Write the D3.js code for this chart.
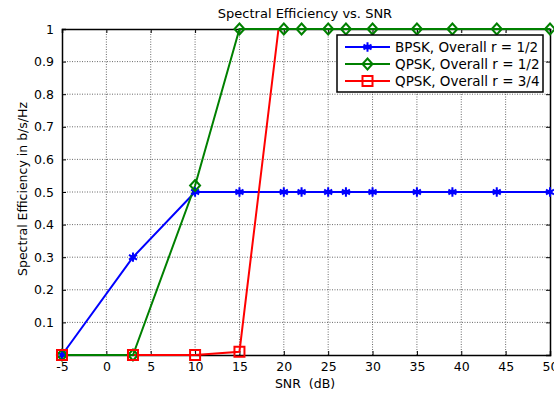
<!DOCTYPE html>
<html>
<head>
<meta charset="utf-8">
<script src="https://cdn.jsdelivr.net/npm/d3@7"></script>
<style>
body { margin: 0; background: #fff; }
text { font-family: "DejaVu Sans", sans-serif; fill: #000; }
</style>
</head>
<body>
<svg id="chart" width="554" height="394"></svg>
<script>
// values
var bpskX = [-5, 3, 10, 15, 20, 22, 25, 27, 30, 35, 39, 44, 50];
var bpskY = [0, 0.3, 0.5, 0.5, 0.5, 0.5, 0.5, 0.5, 0.5, 0.5, 0.5, 0.5, 0.5];
var qpsk12X = [-5, 3, 10, 15, 20, 22, 25, 27, 30, 35, 39, 44, 50];
var qpsk12Y = [0, 0, 0.52, 1, 1, 1, 1, 1, 1, 1, 1, 1, 1];
var qpsk34X = [-5, 3, 10, 15, 19.4, 50];
var qpsk34Y = [0, 0, 0, 0.01, 1, 1];
var xTicks = [-5, 0, 5, 10, 15, 20, 25, 30, 35, 40, 45, 50];
var yTicks = [0.1, 0.2, 0.3, 0.4, 0.5, 0.6, 0.7, 0.8, 0.9, 1];
var legendLabels = ["BPSK, Overall r = 1/2", "QPSK, Overall r = 1/2", "QPSK, Overall r = 3/4"];

var svg = d3.select("#chart");
var pl = 62, pr = 550, pt = 29, pb = 355;

var x = d3.scaleLinear().domain([-5, 50]).range([pl, pr]);
var y = d3.scaleLinear().domain([0, 1]).range([pb, pt]);

// grid
var grid = svg.append("g").attr("stroke", "#444").attr("stroke-width", 0.8).attr("stroke-dasharray", "1,1.5");
grid.selectAll(".gx").data(xTicks.slice(1, -1)).enter().append("line")
	.attr("x1", d => x(d)).attr("x2", d => x(d)).attr("y1", pt).attr("y2", pb);
grid.selectAll(".gy").data(yTicks.slice(0, -1)).enter().append("line")
	.attr("x1", pl).attr("x2", pr).attr("y1", d => y(d)).attr("y2", d => y(d));

// axes (ticks pointing inward, like matlab)
var xAxis = svg.append("g").attr("transform", "translate(0," + pb + ")")
	.call(d3.axisBottom(x).tickValues(xTicks).tickSize(-4).tickPadding(7).tickFormat(d => String(d)));
var xTop = svg.append("g").attr("transform", "translate(0," + pt + ")")
	.call(d3.axisTop(x).tickValues(xTicks).tickSize(-4).tickFormat(""));
var yAxis = svg.append("g").attr("transform", "translate(" + pl + ",0)")
	.call(d3.axisLeft(y).tickValues(yTicks).tickSize(-4).tickPadding(8).tickFormat(d => d === 1 ? "1" : d3.format(".1f")(d)));
var yRight = svg.append("g").attr("transform", "translate(" + pr + ",0)")
	.call(d3.axisRight(y).tickValues(yTicks).tickSize(-4).tickFormat(""));
[xAxis, xTop, yAxis, yRight].forEach(function(g) {
	g.select(".domain").attr("stroke", "#000").attr("stroke-width", 1.5);
	g.selectAll(".tick line").attr("stroke", "#000");
	g.selectAll(".tick text").attr("font-size", 12.5).attr("font-family", "DejaVu Sans, sans-serif").attr("fill", "#000");
});

// series
var series = [
	{ xs: bpskX, ys: bpskY, color: "#0000ff", marker: "star" },
	{ xs: qpsk34X, ys: qpsk34Y, color: "#ff0000", marker: "square" },
	{ xs: qpsk12X, ys: qpsk12Y, color: "#008000", marker: "diamond" }
];
var line = d3.line().x(d => x(d[0])).y(d => y(d[1]));

series.forEach(function(s) {
	svg.append("path").datum(d3.zip(s.xs, s.ys))
		.attr("fill", "none").attr("stroke", s.color).attr("stroke-width", 2)
		.attr("d", line);
});

function drawMarker(g, type, color, cx, cy) {
	if (type === "star") {
		g.append("path").attr("d", d3.symbol(d3.symbolAsterisk, 60)())
			.attr("transform", "translate(" + cx + "," + cy + ")")
			.attr("stroke", color).attr("stroke-width", 2).attr("fill", "none");
		g.append("circle").attr("cx", cx).attr("cy", cy).attr("r", 2.5).attr("fill", color);
	} else if (type === "diamond") {
		g.append("path").attr("d", "M0,-5.5L5,0L0,5.5L-5,0Z")
			.attr("transform", "translate(" + cx + "," + cy + ")")
			.attr("stroke", color).attr("stroke-width", 2).attr("fill", "none");
	} else {
		g.append("rect").attr("x", cx - 5).attr("y", cy - 5).attr("width", 10).attr("height", 10)
			.attr("stroke", color).attr("stroke-width", 2).attr("fill", "none");
	}
}

var marks = svg.append("g");
[series[0], series[2], series[1]].forEach(function(s) {
	d3.zip(s.xs, s.ys).forEach(function(p) {
		// the red squares at y = 1 sit under the green line in the picture
		if (s.marker === "square" && p[1] >= 1) return;
		drawMarker(marks, s.marker, s.color, x(p[0]), y(p[1]));
	});
});

// title and labels
svg.append("text").attr("x", 305).attr("y", 18).attr("text-anchor", "middle").attr("font-size", 13)
	.text("Spectral Efficiency vs. SNR");
svg.append("text").attr("x", 305).attr("y", 388).attr("text-anchor", "middle").attr("font-size", 12.5)
	.attr("xml:space", "preserve").text("SNR  (dB)");
svg.append("text").attr("transform", "translate(27,189) rotate(-90)")
	.attr("text-anchor", "middle").attr("font-size", 12.5)
	.attr("font-family", "Liberation Sans, Arial, sans-serif")
	.text("Spectral Efficiency in b/s/Hz");

// legend
var lg = svg.append("g").attr("transform", "translate(337,35)");
lg.append("rect").attr("width", 206).attr("height", 57).attr("fill", "#fff").attr("stroke", "#000").attr("stroke-width", 1.5);
var legendSeries = [series[0], series[2], series[1]];
legendSeries.forEach(function(s, i) {
	var ly = 12 + i * 17;
	lg.append("line").attr("x1", 8).attr("x2", 53).attr("y1", ly).attr("y2", ly)
		.attr("stroke", s.color).attr("stroke-width", 2);
	drawMarker(lg, s.marker, s.color, 30.5, ly);
	lg.append("text").attr("x", 58).attr("y", ly + 5).attr("font-size", 13.5).text(legendLabels[i]);
});
</script>
</body>
</html>
